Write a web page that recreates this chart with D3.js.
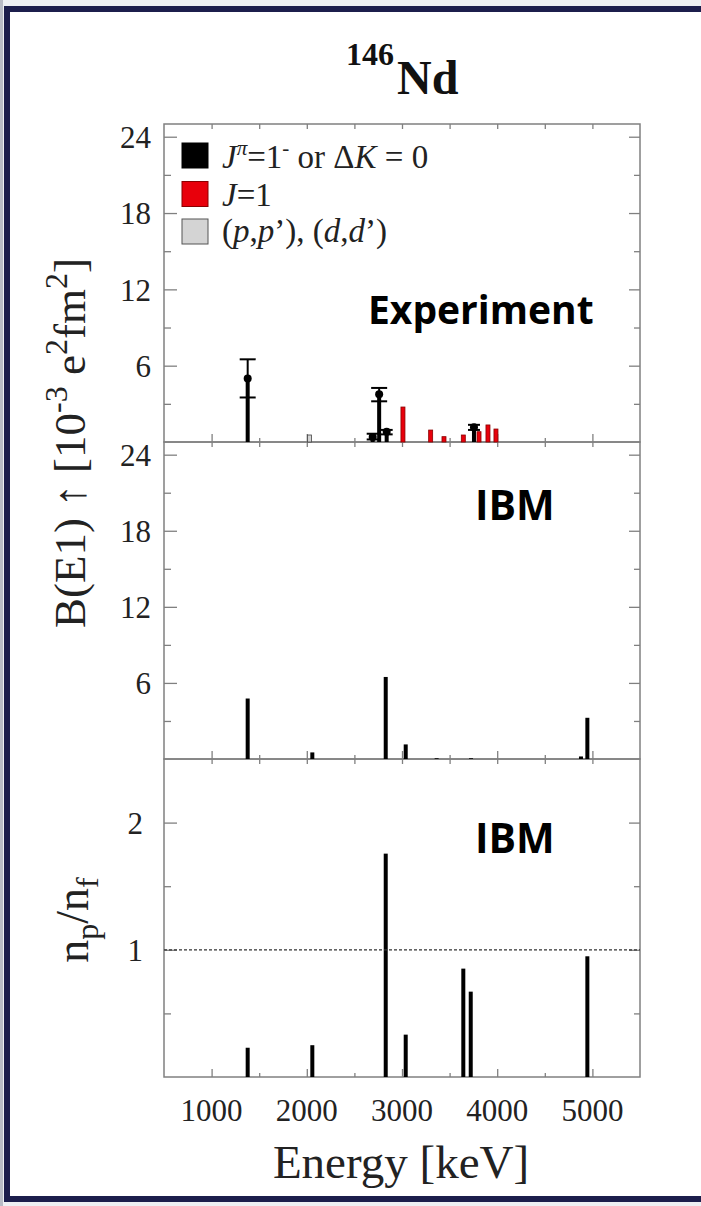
<!DOCTYPE html>
<html><head><meta charset="utf-8">
<script src="https://cdn.jsdelivr.net/npm/d3@7"></script>
<style>
html,body{margin:0;padding:0;background:#eef0f3;}
svg{display:block;}
</style></head>
<body>
<svg id="c" width="701" height="1206"></svg>
<script>
// ---------- data ----------
const energyTicks = [1000, 2000, 3000, 4000, 5000];
const be1Ticks = [6, 12, 18, 24];
const ratioTicks = [1, 2];
// Experiment: J^pi = 1^- or dK = 0 (black, with error bars)
const expBlackE   = [1379, 2692, 2760, 2839, 3756];
const expBlackB   = [5.0, 0.4, 3.75, 0.8, 1.15];
const expBlackLo  = [3.5, 0.2, 3.2, 0.6, 0.95];
const expBlackHi  = [6.5, 0.65, 4.25, 0.95, 1.35];
// Experiment: J = 1 (red)
const expRedE = [3010, 3301, 3441, 3644, 3809, 3903, 3987];
const expRedB = [2.75, 0.94, 0.42, 0.55, 0.81, 1.34, 1.02];
// Experiment: (p,p'), (d,d') (grey)
const expGreyE = [2028];
const expGreyB = [0.55];
// IBM B(E1)
const ibmE = [1379, 2058, 2829, 3039, 3364, 3725, 4880, 4947];
const ibmB = [4.77, 0.52, 6.47, 1.15, 0.06, 0.06, 0.2, 3.25];
// IBM np/nf
const ratioE = [1379, 2058, 2829, 3039, 3644, 3722, 4947];
const ratioV = [0.23, 0.25, 1.756, 0.333, 0.852, 0.671, 0.949];

// ---------- layout ----------
const svg = d3.select('#c');
const L = 164, R = 640;
const AX = '#808080';
const serif = '"Liberation Serif","Times New Roman",serif';
const sans = '"Open Sans",Lato,sans-serif';

// page frame
svg.append('rect').attr('x',0).attr('y',0).attr('width',701).attr('height',1206).attr('fill','#eef0f3');
svg.append('rect').attr('x',0).attr('y',0).attr('width',3).attr('height',1206).attr('fill','#b9bcc6');
svg.append('rect').attr('x',7).attr('y',9).attr('width',720).attr('height',1190)
  .attr('fill','#ffffff').attr('stroke','#1c1e4c').attr('stroke-width',6);

const x = d3.scaleLinear().domain([500, 5500]).range([L, R]);

const panels = [
  {top:124, bottom:442, dom:[0,25], major:be1Ticks, minor:[3,9,15,21], fmt:d=>d, labX:151},
  {top:442, bottom:759, dom:[0,25], major:be1Ticks, minor:[3,9,15,21], fmt:d=>d, labX:151},
  {top:759, bottom:1077, dom:[0,2.5], major:ratioTicks, minor:[0.5,1.5], fmt:d=>d, labX:143}
];
panels.forEach(p => { p.y = d3.scaleLinear().domain(p.dom).range([p.bottom, p.top]); });

const xMinor = [1500, 2500, 3500, 4500];

panels.forEach((p, i) => {
  const g = svg.append('g');
  g.append('rect').attr('x',L).attr('y',p.top).attr('width',R-L).attr('height',p.bottom-p.top)
    .attr('fill','none').attr('stroke',AX).attr('stroke-width',1.5);
  const xb = d3.axisTop(x).tickValues(energyTicks).tickSize(8).tickFormat('');
  const xbm = d3.axisTop(x).tickValues(xMinor).tickSize(4).tickFormat('');
  const xt = d3.axisBottom(x).tickValues(energyTicks.concat(xMinor)).tickSize(5).tickFormat('');
  g.append('g').attr('transform',`translate(0,${p.bottom})`).call(xb);
  g.append('g').attr('transform',`translate(0,${p.bottom})`).call(xbm);
  g.append('g').attr('transform',`translate(0,${p.top})`).call(xt);
  g.append('g').attr('transform',`translate(${L},0)`).call(d3.axisRight(p.y).tickValues(p.major).tickSize(13).tickFormat(''));
  g.append('g').attr('transform',`translate(${L},0)`).call(d3.axisRight(p.y).tickValues(p.minor).tickSize(7).tickFormat(''));
  g.append('g').attr('transform',`translate(${R},0)`).call(d3.axisLeft(p.y).tickValues(p.major).tickSize(11).tickFormat(''));
  g.append('g').attr('transform',`translate(${R},0)`).call(d3.axisLeft(p.y).tickValues(p.minor).tickSize(6).tickFormat(''));
  g.selectAll('.domain').remove();
  g.selectAll('.tick line').attr('stroke',AX).attr('stroke-width',1.3);
  g.selectAll('text.yl').data(p.major).enter().append('text').attr('class','yl')
    .attr('x',p.labX).attr('y',d=>p.y(d)).attr('dy','0.36em').attr('text-anchor','end')
    .attr('font-family',serif).attr('font-size',31).attr('fill','#222').text(p.fmt);
});

// x tick labels
svg.selectAll('text.xl').data(energyTicks).enter().append('text').attr('class','xl')
  .attr('x',d=>x(d)).attr('y',1121).attr('text-anchor','middle')
  .attr('font-family',serif).attr('font-size',31).attr('fill','#222').text(d=>d);

// x axis title
svg.append('text').attr('x',401).attr('y',1178).attr('text-anchor','middle')
  .attr('font-family',serif).attr('font-size',47).attr('fill','#222').text('Energy [keV]');

// y label B(E1)
{
  const t = svg.append('text').attr('transform','translate(85,443) rotate(-90)')
    .attr('text-anchor','middle').attr('font-family',serif).attr('font-size',45).attr('fill','#222');
  t.append('tspan').text('B(E1) \u2191 [10');
  t.append('tspan').attr('dy',-18).attr('font-size',32).text('-3');
  t.append('tspan').attr('dy',18).text(' e');
  t.append('tspan').attr('dy',-18).attr('font-size',32).text('2');
  t.append('tspan').attr('dy',18).text('fm');
  t.append('tspan').attr('dy',-18).attr('font-size',32).text('2');
  t.append('tspan').attr('dy',18).text(']');
}
// y label np/nf
{
  const t = svg.append('text').attr('transform','translate(88,920) rotate(-90)')
    .attr('text-anchor','middle').attr('font-family',serif).attr('font-size',46).attr('fill','#222');
  t.append('tspan').text('n');
  t.append('tspan').attr('dy',10).attr('font-size',32).text('p');
  t.append('tspan').attr('dy',-10).text('/n');
  t.append('tspan').attr('dy',10).attr('font-size',32).text('f');
}

// title
{
  const t = svg.append('text').attr('font-family',serif).attr('font-weight','bold').attr('fill','#111');
  t.append('tspan').attr('x',346).attr('y',65).attr('font-size',32).text('146');
  t.append('tspan').attr('x',397).attr('y',94).attr('font-size',48).text('Nd');
}

// panel captions
svg.append('text').attr('x',368).attr('y',324).attr('font-family',sans).attr('font-weight',700)
  .attr('font-size',39).attr('fill','#000').text('Experiment');
svg.append('text').attr('x',475).attr('y',520).attr('font-family',sans).attr('font-weight',700)
  .attr('font-size',41).attr('fill','#000').text('IBM');
svg.append('text').attr('x',475).attr('y',853).attr('font-family',sans).attr('font-weight',700)
  .attr('font-size',41).attr('fill','#000').text('IBM');

// ---------- marks ----------
const P0 = panels[0], P1 = panels[1], P2 = panels[2];
const BW = 4;
function bars(g, E, V, yS, fill, stroke, cls){
  g.selectAll('rect.'+cls).data(d3.range(E.length)).enter().append('rect').attr('class',cls)
    .attr('x',i=>x(E[i])-BW/2).attr('width',BW)
    .attr('y',i=>yS(V[i])).attr('height',i=>yS(0)-yS(V[i]))
    .attr('fill',fill).attr('stroke',stroke).attr('stroke-width',stroke==='none'?0:0.8);
}
const gm = svg.append('g');
bars(gm, expGreyE, expGreyB, P0.y, '#d4d4d4', '#444', 'grey');
bars(gm, expRedE, expRedB, P0.y, '#e8000b', '#8a0000', 'red');
bars(gm, expBlackE, expBlackB, P0.y, '#000', 'none', 'blk');
const eg = gm.selectAll('g.err').data(d3.range(expBlackE.length)).enter().append('g').attr('class','err');
eg.append('line').attr('x1',i=>x(expBlackE[i])).attr('x2',i=>x(expBlackE[i]))
  .attr('y1',i=>P0.y(expBlackLo[i])).attr('y2',i=>P0.y(expBlackHi[i])).attr('stroke','#000').attr('stroke-width',2);
const capW = i => expBlackB[i] > 2 ? 8 : 6;
['Lo','Hi'].forEach(k => {
  const arr = k==='Lo' ? expBlackLo : expBlackHi;
  eg.append('line').attr('x1',i=>x(expBlackE[i])-capW(i)).attr('x2',i=>x(expBlackE[i])+capW(i))
    .attr('y1',i=>P0.y(arr[i])).attr('y2',i=>P0.y(arr[i])).attr('stroke','#000').attr('stroke-width',2);
});
eg.append('circle').attr('cx',i=>x(expBlackE[i])).attr('cy',i=>P0.y(expBlackB[i])).attr('r',4).attr('fill','#000');

bars(gm, ibmE, ibmB, P1.y, '#000', 'none', 'ibm');
bars(gm, ratioE, ratioV, P2.y, '#000', 'none', 'rat');

svg.append('line').attr('x1',L).attr('x2',R).attr('y1',P2.y(1)).attr('y2',P2.y(1))
  .attr('stroke','#333').attr('stroke-width',1.2).attr('stroke-dasharray','3,2');

// ---------- legend ----------
const legY = [155.5, 194, 231.5];
const legFill = ['#000', '#e8000b', '#d4d4d4'];
const legStroke = ['#000', '#8a0000', '#555'];
svg.selectAll('rect.leg').data(legY).enter().append('rect').attr('class','leg')
  .attr('x',182).attr('y',d=>d-12.5).attr('width',26).attr('height',25)
  .attr('fill',(d,i)=>legFill[i]).attr('stroke',(d,i)=>legStroke[i]).attr('stroke-width',1);
{
  const fs = 33;
  const t = svg.append('text').attr('x',222).attr('y',168).attr('font-family',serif).attr('font-size',fs).attr('fill','#222');
  t.append('tspan').attr('font-style','italic').text('J');
  t.append('tspan').attr('dy',-13).attr('font-size',21).attr('font-style','italic').text('\u03c0');
  t.append('tspan').attr('dy',13).text('=1');
  t.append('tspan').attr('dy',-13).attr('font-size',21).text('-');
  t.append('tspan').attr('dy',13).text(' or \u0394');
  t.append('tspan').attr('font-style','italic').text('K');
  t.append('tspan').text(' = 0');
  const t2 = svg.append('text').attr('x',222).attr('y',206).attr('font-family',serif).attr('font-size',fs).attr('fill','#222');
  t2.append('tspan').attr('font-style','italic').text('J');
  t2.append('tspan').text('=1');
  const t3 = svg.append('text').attr('x',222).attr('y',242).attr('font-family',serif).attr('font-size',fs).attr('fill','#222');
  t3.append('tspan').text('(');
  t3.append('tspan').attr('font-style','italic').text('p');
  t3.append('tspan').text(',');
  t3.append('tspan').attr('font-style','italic').text('p');
  t3.append('tspan').text('\u2019), (');
  t3.append('tspan').attr('font-style','italic').text('d');
  t3.append('tspan').text(',');
  t3.append('tspan').attr('font-style','italic').text('d');
  t3.append('tspan').text('\u2019)');
}
</script>
</body></html>
